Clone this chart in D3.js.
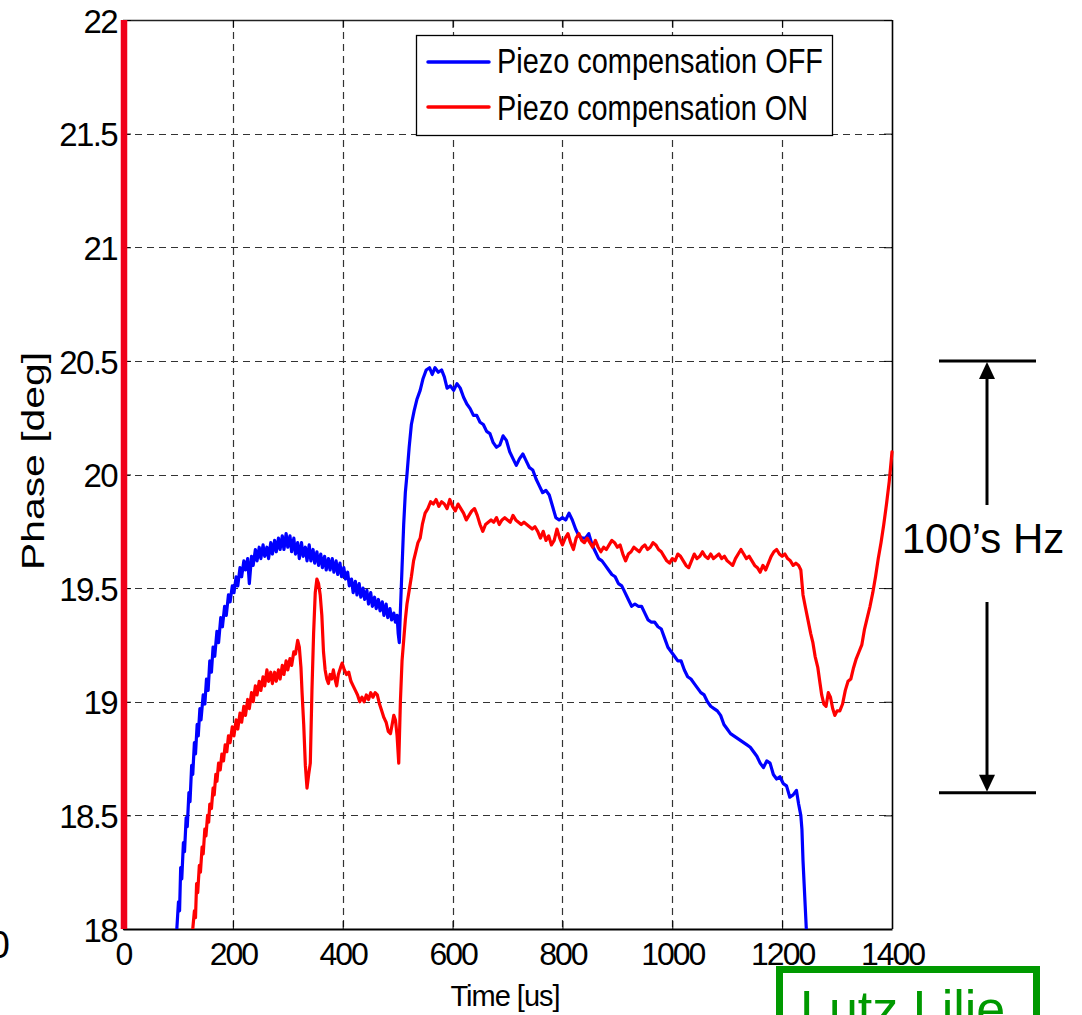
<!DOCTYPE html>
<html>
<head>
<meta charset="utf-8">
<script src="https://cdn.jsdelivr.net/npm/d3@7"></script>
<style>
  body { margin: 0; background: #fff; }
  svg { display: block; font-family: Arial, "Liberation Sans", Helvetica, sans-serif; }
</style>
</head>
<body>
<svg id="chart" width="1082" height="1015"></svg>
<script>
// Axis ticks
const xTicks = [0, 200, 400, 600, 800, 1000, 1200, 1400];
const yTicks = [18, 18.5, 19, 19.5, 20, 20.5, 21, 21.5, 22];
const yTickLabels = ["18", "18.5", "19", "19.5", "20", "20.5", "21", "21.5", "22"];

// Series names
const seriesNames = ["Piezo compensation OFF", "Piezo compensation ON"];

// Phase vs time, piezo compensation OFF  [time us, phase deg]
const offSamples = [
  [98,18.00],[101,18.12],[103,18.08],[105,18.27],[107,18.22],[110,18.38],[112,18.34],[115,18.49],
  [117,18.45],[120,18.60],[122,18.56],[125,18.72],[127,18.68],[130,18.82],[132,18.77],[135,18.90],
  [137,18.85],[140,18.97],[142,18.92],[146,19.03],[149,18.99],[152,19.10],[155,19.05],[158,19.18],
  [161,19.13],[164,19.24],[167,19.20],[171,19.31],[174,19.26],[178,19.37],[181,19.33],[185,19.42],
  [188,19.38],[192,19.47],[195,19.44],[199,19.51],[202,19.48],[206,19.55],[209,19.51],[213,19.59],
  [216,19.55],[220,19.62],[223,19.58],[227,19.63],[230,19.52],[234,19.64],[237,19.60],[241,19.67],
  [244,19.62],[248,19.68],[251,19.63],[255,19.69],[258,19.64],[262,19.68],[265,19.63],[269,19.70],
  [272,19.65],[276,19.71],[279,19.66],[283,19.72],[286,19.67],[290,19.73],[293,19.67],[297,19.74],
  [300,19.68],[304,19.73],[307,19.66],[311,19.72],[314,19.65],[318,19.70],[321,19.63],[325,19.70],
  [328,19.64],[332,19.68],[335,19.62],[339,19.69],[342,19.62],[346,19.67],[349,19.61],[353,19.66],
  [356,19.60],[360,19.65],[363,19.59],[367,19.64],[370,19.58],[374,19.63],[377,19.58],[381,19.63],
  [384,19.57],[388,19.62],[391,19.56],[395,19.61],[398,19.55],[402,19.59],[405,19.54],[409,19.57],
  [412,19.51],[416,19.54],[419,19.48],[423,19.53],[426,19.47],[430,19.52],[433,19.46],[437,19.50],
  [440,19.45],[444,19.49],[447,19.43],[451,19.48],[454,19.42],[458,19.46],[461,19.41],[465,19.45],
  [468,19.40],[472,19.44],[475,19.38],[479,19.43],[482,19.37],[486,19.41],[489,19.36],[493,19.39],
  [496,19.35],[499,19.38],[501,19.30],[503,19.26],[505,19.40],[508,19.59],[511,19.78],[514,19.92],
  [517,20.00],[521,20.12],[525,20.22],[530,20.28],[535,20.33],[541,20.37],[546,20.42],[552,20.46],
  [558,20.47],[563,20.44],[568,20.47],[574,20.45],[580,20.46],[585,20.43],[590,20.38],[596,20.39],
  [602,20.37],[608,20.40],[614,20.38],[620,20.34],[626,20.31],[632,20.29],[638,20.26],[644,20.26],
  [650,20.23],[656,20.22],[662,20.19],[668,20.18],[674,20.14],[680,20.12],[686,20.13],[692,20.17],
  [698,20.15],[704,20.10],[710,20.07],[716,20.04],[722,20.07],[728,20.09],[734,20.06],[740,20.03],
  [746,20.02],[752,19.98],[758,19.95],[764,19.92],[770,19.93],[776,19.91],[782,19.86],[788,19.81],
  [794,19.80],[800,19.81],[806,19.80],[812,19.83],[818,19.80],[824,19.76],[830,19.73],[836,19.72],
  [842,19.72],[848,19.74],[854,19.69],[860,19.66],[866,19.63],[872,19.62],[878,19.60],[884,19.58],
  [890,19.56],[896,19.55],[902,19.52],[908,19.51],[914,19.48],[920,19.45],[926,19.42],[932,19.43],
  [938,19.42],[944,19.42],[950,19.39],[956,19.36],[962,19.35],[968,19.35],[974,19.33],[980,19.32],
  [986,19.28],[992,19.24],[998,19.22],[1004,19.20],[1010,19.18],[1016,19.18],[1022,19.14],[1028,19.11],
  [1034,19.10],[1040,19.08],[1046,19.06],[1052,19.04],[1058,19.03],[1064,19.00],[1070,18.98],[1076,18.97],
  [1082,18.96],[1088,18.94],[1094,18.90],[1100,18.88],[1106,18.86],[1112,18.85],[1118,18.84],[1124,18.83],
  [1130,18.82],[1136,18.81],[1142,18.80],[1148,18.78],[1154,18.76],[1160,18.73],[1166,18.71],[1172,18.74],
  [1178,18.73],[1184,18.68],[1190,18.66],[1196,18.67],[1202,18.64],[1208,18.63],[1214,18.58],[1220,18.59],
  [1226,18.61],[1230,18.55],[1234,18.50],[1236,18.44],[1238,18.30],[1240,18.20],[1242,18.10],[1244,18.00]
];

// Phase vs time, piezo compensation ON  [time us, phase deg]
const onSamples = [
  [127,18.00],[130,18.08],[132,18.05],[134,18.20],[136,18.16],[139,18.28],[141,18.25],[144,18.36],
  [146,18.33],[149,18.44],[151,18.41],[154,18.50],[156,18.47],[158,18.55],[161,18.53],[164,18.62],
  [166,18.59],[169,18.68],[171,18.65],[174,18.73],[177,18.70],[180,18.77],[183,18.74],[186,18.81],
  [189,18.78],[192,18.85],[195,18.82],[199,18.89],[202,18.85],[206,18.92],[209,18.88],[213,18.95],
  [216,18.91],[220,18.98],[223,18.94],[227,19.01],[230,18.97],[234,19.04],[237,19.00],[241,19.07],
  [244,19.03],[248,19.09],[251,19.05],[255,19.11],[258,19.07],[262,19.14],[265,19.09],[269,19.13],
  [272,19.08],[276,19.13],[279,19.09],[283,19.14],[286,19.10],[290,19.16],[293,19.12],[297,19.18],
  [300,19.14],[304,19.19],[307,19.16],[311,19.22],[314,19.21],[318,19.27],[321,19.24],[324,19.15],
  [326,19.04],[329,18.90],[332,18.72],[335,18.62],[338,18.68],[341,18.73],[344,19.05],[347,19.30],
  [350,19.48],[353,19.54],[356,19.52],[359,19.47],[362,19.38],[365,19.22],[368,19.14],[371,19.10],
  [374,19.08],[377,19.12],[380,19.10],[383,19.14],[386,19.10],[389,19.07],[392,19.12],[396,19.15],
  [399,19.17],[403,19.14],[407,19.12],[411,19.13],[415,19.09],[419,19.07],[423,19.05],[427,19.03],
  [431,19.00],[435,19.02],[439,19.00],[443,19.03],[447,19.01],[451,19.04],[455,19.02],[459,19.04],
  [463,19.03],[467,18.99],[471,18.96],[475,18.93],[479,18.91],[483,18.87],[487,18.86],[490,18.90],
  [493,18.94],[496,18.92],[499,18.85],[502,18.73],[505,19.00],[508,19.18],[511,19.27],[514,19.36],
  [517,19.43],[521,19.49],[525,19.55],[529,19.62],[533,19.66],[537,19.70],[541,19.72],[545,19.78],
  [550,19.83],[555,19.85],[560,19.88],[565,19.87],[570,19.89],[575,19.86],[580,19.88],[585,19.87],
  [590,19.85],[595,19.89],[600,19.86],[605,19.84],[610,19.87],[615,19.85],[620,19.83],[625,19.80],
  [630,19.82],[635,19.84],[640,19.85],[645,19.82],[650,19.78],[655,19.75],[660,19.78],[665,19.79],
  [670,19.80],[675,19.79],[680,19.81],[685,19.78],[690,19.80],[695,19.81],[700,19.80],[705,19.79],
  [710,19.82],[715,19.80],[720,19.79],[725,19.78],[730,19.79],[735,19.78],[740,19.77],[745,19.76],
  [750,19.77],[755,19.75],[760,19.72],[765,19.75],[770,19.71],[775,19.73],[780,19.69],[785,19.71],
  [790,19.76],[795,19.72],[800,19.69],[805,19.72],[810,19.74],[815,19.70],[820,19.67],[825,19.72],
  [830,19.74],[835,19.71],[840,19.70],[845,19.72],[850,19.70],[855,19.68],[860,19.71],[865,19.68],
  [870,19.66],[875,19.68],[880,19.67],[885,19.69],[890,19.71],[895,19.70],[900,19.68],[905,19.69],
  [910,19.65],[915,19.62],[920,19.65],[925,19.66],[930,19.68],[935,19.67],[940,19.66],[945,19.68],
  [950,19.69],[955,19.67],[960,19.68],[965,19.70],[970,19.69],[975,19.67],[980,19.66],[985,19.64],
  [990,19.62],[995,19.61],[1000,19.63],[1005,19.62],[1010,19.65],[1015,19.64],[1020,19.62],[1025,19.60],
  [1030,19.59],[1035,19.62],[1040,19.65],[1045,19.63],[1050,19.64],[1055,19.66],[1060,19.64],[1065,19.63],
  [1070,19.65],[1075,19.63],[1080,19.64],[1085,19.65],[1090,19.63],[1095,19.64],[1100,19.62],[1105,19.61],
  [1110,19.60],[1115,19.63],[1120,19.65],[1125,19.67],[1130,19.65],[1135,19.63],[1140,19.64],[1145,19.62],
  [1150,19.60],[1155,19.59],[1160,19.57],[1165,19.60],[1170,19.58],[1175,19.61],[1180,19.64],[1185,19.66],
  [1190,19.67],[1195,19.65],[1200,19.64],[1205,19.65],[1210,19.63],[1215,19.62],[1220,19.60],[1225,19.61],
  [1230,19.60],[1234,19.58],[1238,19.47],[1242,19.42],[1247,19.36],[1252,19.30],[1256,19.26],[1260,19.20],
  [1265,19.15],[1269,19.08],[1272,19.03],[1276,18.99],[1280,18.98],[1284,19.04],[1288,19.02],[1292,18.97],
  [1296,18.94],[1300,18.96],[1305,18.96],[1310,18.99],[1315,19.05],[1320,19.09],[1325,19.10],[1330,19.15],
  [1335,19.19],[1340,19.22],[1345,19.25],[1350,19.32],[1355,19.37],[1360,19.42],[1365,19.48],[1370,19.55],
  [1375,19.63],[1380,19.70],[1385,19.78],[1390,19.87],[1395,19.97],[1400,20.10]
];

// Phase span marked on the right-hand side
const spanPhase = [20.5, 18.6];
const spanLabel = "100\u2019s Hz";

const svg = d3.select("#chart");
const W = 1082, H = 1015;
const plot = { left: 123, right: 892, top: 20, bottom: 929 };

const x = d3.scaleLinear().domain([0, 1400]).range([plot.left, plot.right]);
const y = d3.scaleLinear().domain([18, 22]).range([plot.bottom, plot.top]);

svg.append("rect").attr("width", W).attr("height", H).attr("fill", "#fff");

// Dashed grid
const grid = svg.append("g").attr("stroke", "#333").attr("stroke-width", 1.2)
  .attr("stroke-dasharray", "7,5").attr("fill", "none");
grid.selectAll("line.v").data(xTicks.filter(t => t > 0 && t < 1400)).join("line")
  .attr("class", "v")
  .attr("x1", d => Math.round(x(d)) + 0.5).attr("x2", d => Math.round(x(d)) + 0.5)
  .attr("y1", plot.top).attr("y2", plot.bottom);
grid.selectAll("line.h").data(yTicks.filter(t => t > 18 && t < 22)).join("line")
  .attr("class", "h")
  .attr("x1", plot.left).attr("x2", plot.right)
  .attr("y1", d => Math.round(y(d)) + 0.5).attr("y2", d => Math.round(y(d)) + 0.5);

// Box: top and right edges
svg.append("line").attr("x1", plot.left).attr("x2", plot.right)
  .attr("y1", plot.top + 0.5).attr("y2", plot.top + 0.5)
  .attr("stroke", "#222").attr("stroke-width", 1.6);
svg.append("line").attr("x1", plot.right + 0.5).attr("x2", plot.right + 0.5)
  .attr("y1", plot.top).attr("y2", plot.bottom)
  .attr("stroke", "#000").attr("stroke-width", 1.6);

// Inward ticks on top and right edges
svg.append("g").attr("transform", `translate(0,${plot.top})`)
  .call(d3.axisTop(x).tickValues(xTicks).tickSizeInner(-8).tickSizeOuter(0).tickFormat(""))
  .call(g => g.select(".domain").remove());
svg.append("g").attr("transform", `translate(${plot.right},0)`)
  .call(d3.axisRight(y).tickValues(yTicks).tickSizeInner(-8).tickSizeOuter(0).tickFormat(""))
  .call(g => g.select(".domain").remove());

// Bottom axis
const xAxis = svg.append("g").attr("transform", `translate(0,${plot.bottom})`)
  .call(d3.axisBottom(x).tickValues(xTicks).tickSizeInner(-8).tickSizeOuter(0).tickPadding(13)
    .tickFormat(d3.format("d")));
xAxis.select(".domain").attr("stroke", "#000").attr("stroke-width", 2.2);
xAxis.selectAll("text").attr("font-size", 32).attr("letter-spacing", "-2px")
  .attr("font-family", "Arial, 'Liberation Sans', sans-serif").attr("fill", "#000");

// Left axis
const yAxis = svg.append("g").attr("transform", `translate(${plot.left},0)`)
  .call(d3.axisLeft(y).tickValues(yTicks).tickSizeInner(-8).tickSizeOuter(0).tickPadding(6)
    .tickFormat((d, i) => yTickLabels[i]));
yAxis.select(".domain").attr("stroke", "#000").attr("stroke-width", 1.5);
yAxis.selectAll("text").attr("font-size", 33).attr("letter-spacing", "-1.6px").attr("dy", "0.37em")
  .attr("font-family", "Arial, 'Liberation Sans', sans-serif").attr("fill", "#000");

// Series lines
svg.append("clipPath").attr("id", "plotClip").append("rect")
  .attr("x", plot.left).attr("y", plot.top - 2)
  .attr("width", plot.right - plot.left + 2).attr("height", plot.bottom - plot.top + 2);
const line = d3.line().x(d => x(d[0])).y(d => y(d[1]));
const series = svg.append("g").attr("clip-path", "url(#plotClip)").attr("fill", "none")
  .attr("stroke-width", 3.2).attr("stroke-linejoin", "round").attr("stroke-linecap", "round");
series.append("path").datum(offSamples).attr("d", line).attr("stroke", "#0000ff");
series.append("path").datum(onSamples).attr("d", line).attr("stroke", "#ff0000");

// Red marker at t = 0
svg.append("line")
  .attr("x1", x(0) + 1).attr("x2", x(0) + 1)
  .attr("y1", y(18)).attr("y2", y(22))
  .attr("stroke", "#f0001a").attr("stroke-width", 6.5);

// Axis titles
svg.append("text").attr("x", 505).attr("y", 1006).attr("text-anchor", "middle")
  .attr("font-size", 29).attr("letter-spacing", "-1px").text("Time [us]");
svg.append("text").attr("transform", "translate(44,461) rotate(-90)").attr("text-anchor", "middle")
  .attr("font-size", 31).attr("textLength", 218).attr("lengthAdjust", "spacingAndGlyphs")
  .text("Phase [deg]");

// Fragment of a neighbouring label at the left edge
svg.append("text").attr("x", 10).attr("y", 958).attr("text-anchor", "end")
  .attr("font-size", 38).text("0");

// Legend
const legend = svg.append("g");
legend.append("rect").attr("x", 416.5).attr("y", 35.5).attr("width", 416).attr("height", 100)
  .attr("fill", "#fff").attr("stroke", "#000").attr("stroke-width", 1.3);
const legendRows = [
  { name: seriesNames[0], color: "#0000ff", ly: 62, ty: 73, len: 326 },
  { name: seriesNames[1], color: "#ff0000", ly: 107, ty: 120, len: 311 }
];
legendRows.forEach(r => {
  legend.append("line").attr("x1", 428).attr("x2", 489).attr("y1", r.ly).attr("y2", r.ly)
    .attr("stroke", r.color).attr("stroke-width", 3.5).attr("stroke-linecap", "round");
  legend.append("text").attr("x", 497).attr("y", r.ty).attr("font-size", 35)
    .attr("textLength", r.len).attr("lengthAdjust", "spacingAndGlyphs").text(r.name);
});

// Span annotation on the right
const ax = 987;
const spanTop = y(spanPhase[0]), spanBot = y(spanPhase[1]);
const ann = svg.append("g").attr("stroke", "#000").attr("stroke-width", 3);
ann.append("line").attr("x1", 939).attr("x2", 1036).attr("y1", spanTop).attr("y2", spanTop);
ann.append("line").attr("x1", 939).attr("x2", 1036).attr("y1", spanBot).attr("y2", spanBot);
ann.append("line").attr("x1", ax).attr("x2", ax).attr("y1", spanTop + 14).attr("y2", 505);
ann.append("line").attr("x1", ax).attr("x2", ax).attr("y1", 602).attr("y2", spanBot - 14);
svg.append("path").attr("fill", "#000")
  .attr("d", `M${ax},${spanTop + 1} L${ax - 8},${spanTop + 18} L${ax + 8},${spanTop + 18} Z`);
svg.append("path").attr("fill", "#000")
  .attr("d", `M${ax},${spanBot - 1} L${ax - 8},${spanBot - 18} L${ax + 8},${spanBot - 18} Z`);
svg.append("text").attr("x", 983).attr("y", 553).attr("text-anchor", "middle")
  .attr("font-size", 42).text(spanLabel);

// Author box at the bottom right
svg.append("rect").attr("x", 779.5).attr("y", 969.5).attr("width", 257).attr("height", 100)
  .attr("fill", "none").attr("stroke", "#009900").attr("stroke-width", 7);
svg.append("text").attr("x", 800).attr("y", 1027).attr("font-size", 52).attr("fill", "#009900")
  .text("Lutz Lilie");
</script>
</body>
</html>
